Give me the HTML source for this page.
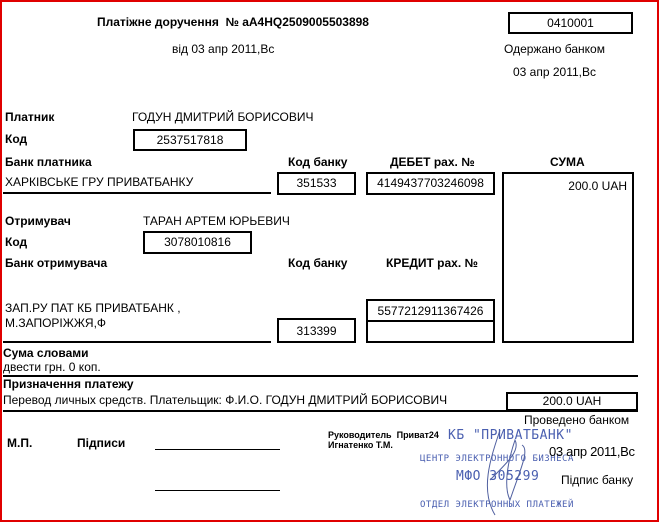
<!DOCTYPE html>
<html><head><meta charset="utf-8"><style>
html,body{margin:0;padding:0}
body{width:659px;height:522px;position:relative;background:#fff;overflow:hidden;font-family:"Liberation Sans",Arial,sans-serif;font-size:12px;color:#000}
.frame{position:absolute;left:0;top:0;width:655px;height:518px;border:2px solid #e00000}
.t{position:absolute;white-space:nowrap;line-height:14px}
.b{font-weight:bold}
.box{position:absolute;border:2px solid #000;box-sizing:border-box;text-align:center;line-height:19px;font-size:12px}
.ln{position:absolute;background:#000}
.s{position:absolute;white-space:nowrap;color:#4a5fb0;font-family:"DejaVu Sans Mono",monospace;letter-spacing:0.5px}
</style></head><body>
<div class="frame"></div>

<div class="t b" style="left:97px;top:15px">Платіжне доручення&nbsp; № aA4HQ2509005503898</div>
<div class="box" style="left:508px;top:12px;width:125px;height:22px">0410001</div>
<div class="t" style="left:172px;top:42px">від 03 апр 2011,Вс</div>
<div class="t" style="left:504px;top:42px">Одержано банком</div>
<div class="t" style="left:513px;top:65px">03 апр 2011,Вс</div>

<div class="t b" style="left:5px;top:110px">Платник</div>
<div class="t" style="left:132px;top:110px">ГОДУН ДМИТРИЙ БОРИСОВИЧ</div>
<div class="t b" style="left:5px;top:132px">Код</div>
<div class="box" style="left:133px;top:129px;width:114px;height:22px">2537517818</div>
<div class="t b" style="left:5px;top:155px">Банк платника</div>
<div class="t b" style="left:288px;top:155px">Код банку</div>
<div class="t b" style="left:390px;top:155px">ДЕБЕТ рах. №</div>
<div class="t b" style="left:550px;top:155px">СУМА</div>
<div class="t" style="left:5px;top:175px">ХАРКІВСЬКЕ ГРУ ПРИВАТБАНКУ</div>
<div class="ln" style="left:3px;top:192px;width:268px;height:2px"></div>
<div class="box" style="left:277px;top:172px;width:79px;height:23px">351533</div>
<div class="box" style="left:366px;top:172px;width:129px;height:23px">4149437703246098</div>
<div class="box" style="left:502px;top:172px;width:132px;height:171px;text-align:right;padding-right:5px;line-height:24px">200.0 UAH</div>

<div class="t b" style="left:5px;top:214px">Отримувач</div>
<div class="t" style="left:143px;top:214px">ТАРАН АРТЕМ ЮРЬЕВИЧ</div>
<div class="t b" style="left:5px;top:235px">Код</div>
<div class="box" style="left:143px;top:231px;width:109px;height:23px">3078010816</div>
<div class="t b" style="left:5px;top:256px">Банк отримувача</div>
<div class="t b" style="left:288px;top:256px">Код банку</div>
<div class="t b" style="left:386px;top:256px">КРЕДИТ рах. №</div>
<div class="t" style="left:5px;top:301px">ЗАП.РУ ПАТ КБ ПРИВАТБАНК ,</div>
<div class="t" style="left:5px;top:316px">М.ЗАПОРІЖЖЯ,Ф</div>
<div class="ln" style="left:3px;top:341px;width:268px;height:2px"></div>
<div class="box" style="left:277px;top:318px;width:79px;height:25px;line-height:22px">313399</div>
<div class="box" style="left:366px;top:299px;width:129px;height:44px;line-height:20px">5577212911367426</div>
<div class="ln" style="left:366px;top:320px;width:129px;height:2px"></div>

<div class="t b" style="left:3px;top:346px">Сума словами</div>
<div class="t" style="left:3px;top:360px">двести грн. 0 коп.</div>
<div class="ln" style="left:3px;top:375px;width:635px;height:2px"></div>
<div class="t b" style="left:3px;top:377px">Призначення платежу</div>
<div class="t" style="left:3px;top:393px">Перевод личных средств. Плательщик: Ф.И.О. ГОДУН ДМИТРИЙ БОРИСОВИЧ</div>
<div class="box" style="left:506px;top:392px;width:132px;height:19px;line-height:15px">200.0 UAH</div>
<div class="ln" style="left:3px;top:410px;width:635px;height:2px"></div>

<div class="t" style="left:524px;top:413px">Проведено банком</div>
<div class="t b" style="left:7px;top:436px">М.П.</div>
<div class="t b" style="left:77px;top:436px">Підписи</div>
<div class="ln" style="left:155px;top:449px;width:125px;height:1px"></div>
<div class="ln" style="left:155px;top:490px;width:125px;height:1px"></div>
<div class="t b" style="left:328px;top:430px;font-size:9px;line-height:11px">Руководитель&nbsp; Приват24</div>
<div class="t b" style="left:328px;top:440px;font-size:9px;line-height:11px">Игнатенко Т.М.</div>

<div class="s" style="left:448px;top:428px;font-size:13px">КБ "ПРИВАТБАНК"</div>
<div class="s" style="left:420px;top:454px;font-size:9px">ЦЕНТР ЭЛЕКТРОННОГО БИЗНЕСА</div>
<div class="s" style="left:456px;top:469px;font-size:13px">МФО 305299</div>
<div class="s" style="left:420px;top:500px;font-size:9px">ОТДЕЛ ЭЛЕКТРОННЫХ ПЛАТЕЖЕЙ</div>
<svg style="position:absolute;left:460px;top:420px" width="80" height="100"><path d="M40 10 C30 40 20 70 35 95 M30 60 C50 40 60 30 55 20 C45 50 45 70 50 80 C60 50 70 30 62 25" fill="none" stroke="#5060a0" stroke-width="1"/></svg>

<div class="t" style="left:549px;top:445px;font-size:13px;letter-spacing:-0.3px">03 апр 2011,Вс</div>
<div class="t" style="left:561px;top:473px">Підпис банку</div>
</body></html>
